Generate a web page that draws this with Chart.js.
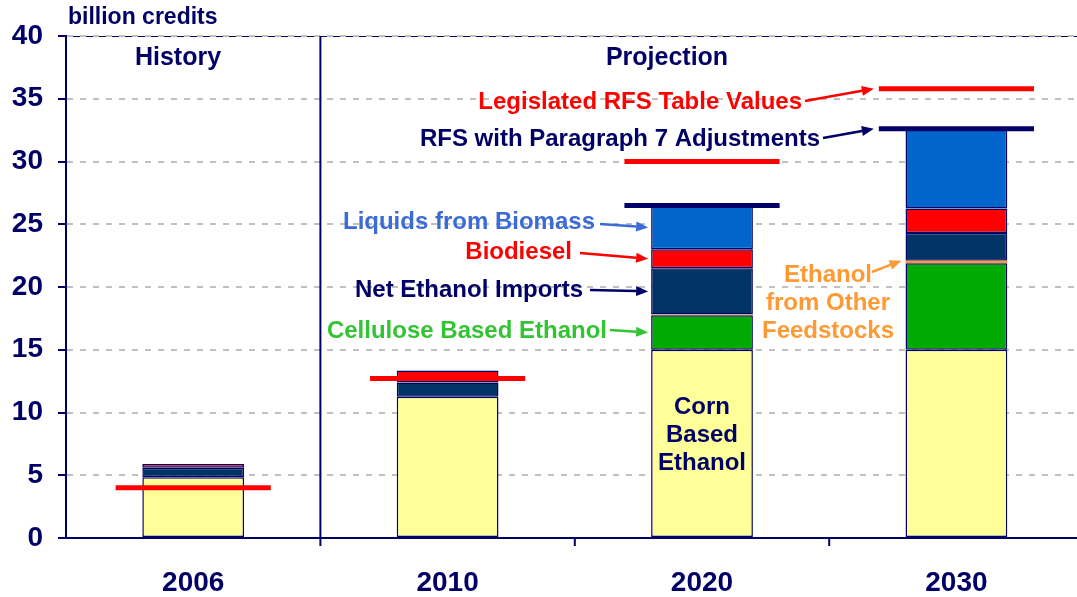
<!DOCTYPE html>
<html>
<head>
<meta charset="utf-8">
<title>RFS credits</title>
<script src="https://cdn.jsdelivr.net/npm/chart.js@4.4.1/dist/chart.umd.min.js"></script>
<style>
  body { margin: 0; background: #fff; overflow: hidden; }
  #wrap { width: 1077px; height: 597px; }
</style>
</head>
<body>
<div id="wrap"><canvas id="rfsChart" width="1077" height="597"></canvas></div>
<script>
// data (billion credits)
const years = ['2006', '2010', '2020', '2030'];
const cornEthanol = [4.85, 11.25, 15.0, 15.0];
const celluloseEthanol = [null, null, 2.75, 6.9];
const otherFeedstocks = [null, null, 0.05, 0.2];
const netImports = [0.75, 1.15, 3.7, 2.2];
const biodiesel = [0.3, 0.95, 1.5, 1.95];
const biomassLiquids = [null, null, 3.5, 6.3];
const rfsTable = [4.0, 12.7, 30.0, 35.8];
const rfsAdjusted = [null, null, 26.5, 32.6];
const yTicks = [0, 5, 10, 15, 20, 25, 30, 35, 40];

const NAVY = '#000066';
const FONT = '"Liberation Sans", Arial, sans-serif';

function pts(arr) {
    return arr.map(function(v, i) { return { x: i, y: v }; });
}

function barSet(label, arr, color, border) {
    return {
        label: label,
        data: pts(arr),
        backgroundColor: color,
        borderColor: NAVY,
        borderWidth: border,
        borderSkipped: false,
        categoryPercentage: 1,
        barPercentage: 0.4
    };
}

function text(ctx, str, x, y, color, align, size) {
    ctx.save();
    ctx.font = 'bold ' + (size || 24) + 'px ' + FONT;
    ctx.fillStyle = color;
    ctx.textAlign = align || 'center';
    ctx.textBaseline = 'middle';
    ctx.fillText(str, x, y);
    ctx.restore();
}

function arrow(ctx, x1, y1, x2, y2, color) {
    const a = Math.atan2(y2 - y1, x2 - x1);
    const len = 12, w = 5;
    ctx.save();
    ctx.strokeStyle = color;
    ctx.fillStyle = color;
    ctx.lineWidth = 2.5;
    ctx.beginPath();
    ctx.moveTo(x1, y1);
    ctx.lineTo(x2 - len * Math.cos(a), y2 - len * Math.sin(a));
    ctx.stroke();
    ctx.beginPath();
    ctx.moveTo(x2, y2);
    ctx.lineTo(x2 - len * Math.cos(a) + w * Math.sin(a), y2 - len * Math.sin(a) - w * Math.cos(a));
    ctx.lineTo(x2 - len * Math.cos(a) - w * Math.sin(a), y2 - len * Math.sin(a) + w * Math.cos(a));
    ctx.closePath();
    ctx.fill();
    ctx.restore();
}

// frame line along the top, under the dashed grid
const framePlugin = {
    id: 'frame',
    beforeDraw: function(chart) {
        const ctx = chart.ctx, a = chart.chartArea;
        ctx.save();
        ctx.strokeStyle = NAVY;
        ctx.lineWidth = 1;
        ctx.beginPath();
        ctx.moveTo(a.left, a.top + 0.5);
        ctx.lineTo(a.right, a.top + 0.5);
        ctx.stroke();
        ctx.restore();
    }
};

const overlayPlugin = {
    id: 'overlay',
    afterDraw: function(chart) {
        const ctx = chart.ctx, a = chart.chartArea;
        const xs = chart.scales.x, ys = chart.scales.y;
        const halfLine = 0.305;
        const halfBar = 0.2;

        // history / projection divider and category ticks
        ctx.save();
        ctx.strokeStyle = NAVY;
        ctx.lineWidth = 2;
        ctx.beginPath();
        const d = xs.getPixelForValue(0.5);
        ctx.moveTo(d, a.top);
        ctx.lineTo(d, a.bottom + 8);
        [1.5, 2.5].forEach(function(v) {
            const p = xs.getPixelForValue(v);
            ctx.moveTo(p, a.bottom);
            ctx.lineTo(p, a.bottom + 8);
        });
        ctx.stroke();
        ctx.restore();

        // RFS level lines
        function level(arr, color) {
            ctx.save();
            ctx.strokeStyle = color;
            ctx.lineWidth = 5;
            arr.forEach(function(v, i) {
                if (v === null) return;
                const y = ys.getPixelForValue(v);
                ctx.beginPath();
                ctx.moveTo(xs.getPixelForValue(i - halfLine), y);
                ctx.lineTo(xs.getPixelForValue(i + halfLine), y);
                ctx.stroke();
            });
            ctx.restore();
        }
        level(rfsTable, '#ff0000');
        level(rfsAdjusted, NAVY);

        text(ctx, 'billion credits', 68, 18, NAVY, 'left', 23);
        text(ctx, 'History', 178, 58, NAVY, 'center', 25);
        text(ctx, 'Projection', 667, 58, NAVY, 'center', 25);

        // labels pointing at the 2020 stack
        const left20 = xs.getPixelForValue(2 - halfBar) - 3;
        let base = cornEthanol[2];
        const cellMid = base + celluloseEthanol[2] / 2;
        base += celluloseEthanol[2] + otherFeedstocks[2];
        const impMid = base + netImports[2] / 2;
        base += netImports[2];
        const bioMid = base + biodiesel[2] / 2;
        base += biodiesel[2];
        const liqMid = base + biomassLiquids[2] / 2;

        text(ctx, 'Liquids from Biomass', 595, 222, '#3a6bd6', 'right');
        arrow(ctx, 600, 224, left20, ys.getPixelForValue(liqMid), '#3a6bd6');
        text(ctx, 'Biodiesel', 572, 252, '#ff0000', 'right');
        arrow(ctx, 580, 253, left20, ys.getPixelForValue(bioMid), '#ff0000');
        text(ctx, 'Net Ethanol Imports', 583, 290, NAVY, 'right');
        arrow(ctx, 590, 290, left20, ys.getPixelForValue(impMid), NAVY);
        text(ctx, 'Cellulose Based Ethanol', 607, 331, '#33c433', 'right');
        arrow(ctx, 610, 330, left20, ys.getPixelForValue(cellMid), '#33c433');

        // labels pointing at the RFS lines
        text(ctx, 'Legislated RFS Table Values', 802, 102, '#ff0000', 'right');
        arrow(ctx, 805, 101, xs.getPixelForValue(3 - halfLine) - 5, ys.getPixelForValue(rfsTable[3]), '#ff0000');
        text(ctx, 'RFS with Paragraph 7 Adjustments', 820, 139, NAVY, 'right');
        arrow(ctx, 823, 138, xs.getPixelForValue(3 - halfLine) - 5, ys.getPixelForValue(rfsAdjusted[3]), NAVY);

        // corn label inside the 2020 bar
        const cx = xs.getPixelForValue(2);
        text(ctx, 'Corn', cx, 407, NAVY);
        text(ctx, 'Based', cx, 435, NAVY);
        text(ctx, 'Ethanol', cx, 463, NAVY);

        // other feedstocks label
        const orange = '#ff9933';
        text(ctx, 'Ethanol', 828, 275, orange);
        text(ctx, 'from Other', 828, 303, orange);
        text(ctx, 'Feedstocks', 828, 331, orange);
        const otherTop = cornEthanol[3] + celluloseEthanol[3] + otherFeedstocks[3];
        arrow(ctx, 872, 272, xs.getPixelForValue(3 - halfBar) - 4, ys.getPixelForValue(otherTop), orange);
    }
};

new Chart(document.getElementById('rfsChart'), {
    type: 'bar',
    data: {
        datasets: [
            barSet('Corn Based Ethanol', cornEthanol, '#ffff99', 1.5),
            barSet('Cellulose Based Ethanol', celluloseEthanol, '#00aa00', 1.5),
            barSet('Ethanol from Other Feedstocks', otherFeedstocks, '#ff9933', 0),
            barSet('Net Ethanol Imports', netImports, '#003366', 1.5),
            barSet('Biodiesel', biodiesel, '#ff0000', 1.5),
            barSet('Liquids from Biomass', biomassLiquids, '#0066cc', 1.5)
        ]
    },
    options: {
        responsive: false,
        animation: false,
        layout: { padding: { top: 36, right: 0, left: 0, bottom: 0 } },
        plugins: {
            legend: { display: false },
            tooltip: { enabled: false }
        },
        scales: {
            x: {
                type: 'linear',
                stacked: true,
                offset: false,
                min: -0.5,
                max: 3.474,
                grid: { display: false, drawTicks: false },
                border: { display: true, color: NAVY, width: 2 },
                afterBuildTicks: function(scale) {
                    scale.ticks = years.map(function(_, i) { return { value: i }; });
                },
                afterFit: function(scale) { scale.height = 59; },
                ticks: {
                    autoSkip: false,
                    maxRotation: 0,
                    padding: 28,
                    color: NAVY,
                    font: { family: FONT, size: 28, weight: 'bold' },
                    callback: function(value) { return years[value]; }
                }
            },
            y: {
                stacked: true,
                min: 0,
                max: 40,
                afterBuildTicks: function(scale) {
                    scale.ticks = yTicks.map(function(v) { return { value: v }; });
                },
                afterFit: function(scale) { scale.width = 66; },
                grid: {
                    color: '#c0c0c0',
                    lineWidth: 2,
                    tickLength: 8,
                    tickColor: NAVY,
                    tickWidth: 2,
                    tickBorderDash: []
                },
                border: { display: true, color: NAVY, width: 2, dash: [6, 7] },
                ticks: {
                    padding: 15,
                    color: NAVY,
                    font: { family: FONT, size: 28, weight: 'bold' }
                }
            }
        }
    },
    plugins: [framePlugin, overlayPlugin]
});
</script>
</body>
</html>
